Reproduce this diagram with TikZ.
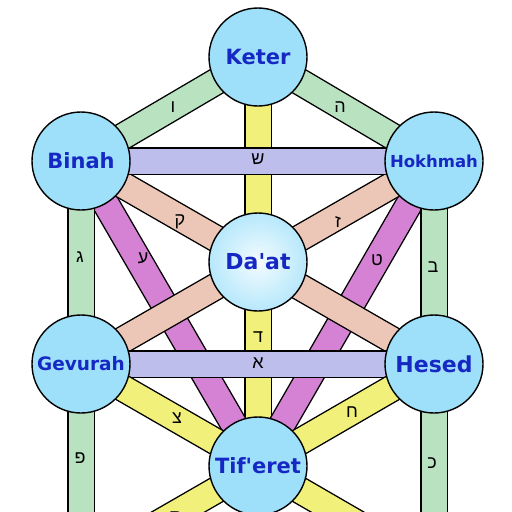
\documentclass[tikz,border=0pt]{standalone}
\usepackage{fontspec}
\newfontfamily\sefont{DejaVu Sans}
\newfontfamily\hebfont[Script=Hebrew]{Liberation Sans}
\usetikzlibrary{backgrounds}

\definecolor{sefblue}{RGB}{158,224,250}
\definecolor{sefink}{RGB}{22,40,196}
\definecolor{pathgreen}{RGB}{184,226,192}
\definecolor{pathyellow}{RGB}{240,240,122}
\definecolor{pathlilac}{RGB}{190,190,236}
\definecolor{pathsalmon}{RGB}{236,198,182}
\definecolor{pathpurple}{RGB}{214,130,212}

\tikzset{
  sefirah/.style={circle, draw=black, line width=1.4pt, fill=sefblue,
    minimum size=98pt, inner sep=0pt, text=sefink,
    font=\sefont\bfseries\fontsize{21}{21}\selectfont},
  channel/.style={draw=black, line width=1.4pt, double=#1, double distance=25pt},
  letter/.style={inner sep=0pt, font=\hebfont\fontsize{18}{18}\selectfont},
}

\begin{document}
\begin{tikzpicture}[x=1pt,y=-1pt]
  \useasboundingbox (0,0) rectangle (512,512);

  % the sefirot
  \node[sefirah] (keter) at (258,57) {Keter};
  \node[sefirah] (binah) at (81,161) {Binah};
  \node[sefirah, font=\sefont\bfseries\fontsize{16.5}{16.5}\selectfont] (hokhmah) at (434,161) {Hokhmah};
  \node[sefirah, shade, inner color=sefblue!12, outer color=sefblue!75,
    font=\sefont\bfseries\fontsize{22}{22}\selectfont] (daat) at (258,262) {Da'at};
  \node[sefirah, font=\sefont\bfseries\fontsize{18.5}{18.5}\selectfont] (gevurah) at (81,364) {Gevurah};
  \node[sefirah, font=\sefont\bfseries\fontsize{22}{22}\selectfont] (hesed) at (434,364) {Hesed};
  \node[sefirah] (tiferet) at (258,466) {Tif'eret};
  \coordinate (hod) at (81,568);
  \coordinate (netzach) at (434,568);

  % the paths, behind the circles
  \begin{scope}[on background layer]
    \draw[channel=pathyellow] (keter.center) -- (tiferet.center);
    \draw[channel=pathpurple] (binah.center) -- (tiferet.center);
    \draw[channel=pathpurple] (hokhmah.center) -- (tiferet.center);
    \draw[channel=pathsalmon] (binah.center) -- (hesed.center);
    \draw[channel=pathsalmon] (hokhmah.center) -- (gevurah.center);
    \draw[channel=pathlilac] (binah.center) -- (hokhmah.center);
    \draw[channel=pathlilac] (gevurah.center) -- (hesed.center);
    \draw[channel=pathgreen] (keter.center) -- (binah.center);
    \draw[channel=pathgreen] (keter.center) -- (hokhmah.center);
    \draw[channel=pathgreen] (binah.center) -- (gevurah.center);
    \draw[channel=pathgreen] (hokhmah.center) -- (hesed.center);
    \draw[channel=pathgreen] (gevurah.center) -- (hod);
    \draw[channel=pathgreen] (hesed.center) -- (netzach);
    \draw[channel=pathyellow] (gevurah.center) -- (tiferet.center);
    \draw[channel=pathyellow] (hesed.center) -- (tiferet.center);
    \draw[channel=pathyellow] (tiferet.center) -- (hod);
    \draw[channel=pathyellow] (tiferet.center) -- (netzach);
  \end{scope}

  % letters
  \node[letter] (vav) at (173,107) {ו};
  \node[letter] (he) at (340,107) {ה};
  \node[letter] (shin) at (258,159) {ש};
  \node[letter] (qof) at (180,222) {ק};
  \node[letter] (zayin) at (338,222) {ז};
  \node[letter] (ayin) at (143,258) {ע};
  \node[letter] (tet) at (377,260) {ט};
  \node[letter] (gimel) at (80,257) {ג};
  \node[letter] (bet) at (433,267) {ב};
  \node[letter] (dalet) at (258,337) {ד};
  \node[letter] (alef) at (258,363) {א};
  \node[letter] (tsadi) at (177,418) {צ};
  \node[letter] (het) at (352,412) {ח};
  \node[letter] (pe) at (80,458) {פ};
  \node[letter] (kaf) at (432,463) {כ};
  \node[letter] (samekh) at (176,517) {ס};
  \node[letter] (nun) at (349,519) {נ};
\end{tikzpicture}
\end{document}
